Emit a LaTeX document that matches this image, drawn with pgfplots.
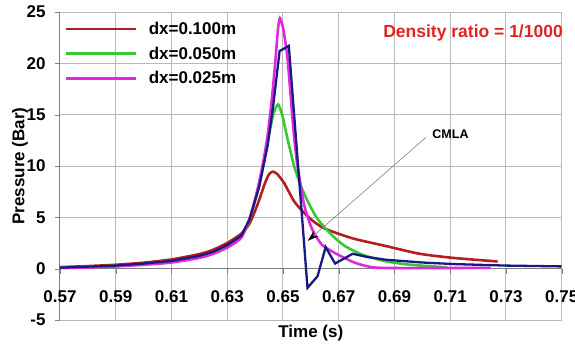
\documentclass[border=0pt]{standalone}
\usepackage{pgfplots}
\pgfplotsset{compat=1.18}
\usepackage{fontspec}
\setmainfont{Liberation Sans}
\usetikzlibrary{arrows.meta}
\definecolor{cRed}{RGB}{180,30,30}
\definecolor{cGreen}{RGB}{55,200,50}
\definecolor{cPink}{RGB}{225,40,225}
\definecolor{cBlue}{RGB}{25,25,130}
\definecolor{cTitle}{RGB}{225,35,35}
\definecolor{gridc}{RGB}{185,185,185}
\definecolor{cAxis}{RGB}{125,125,125}
\newcommand{\bigf}{\fontsize{17bp}{20bp}\selectfont\bfseries}
\begin{document}
\begin{tikzpicture}
\begin{axis}[
  scale only axis, width=501.7bp, height=308bp,
  xmin=0.57, xmax=0.75, ymin=-5, ymax=25,
  xtick={0.57,0.59,0.61,0.63,0.65,0.67,0.69,0.71,0.73,0.75},
  xticklabels={0.57,0.59,0.61,0.63,0.65,0.67,0.69,0.71,0.73,0.75},
  ytick={-5,0,5,10,15,20,25},
  yticklabels={-5,0,5,10,15,20,25},
  axis x line*=middle, axis y line*=left,
  hide obscured x ticks=false, hide obscured y ticks=false,
  xmajorgrids=true, ymajorgrids=true,
  major grid style={draw=gridc, line width=1bp},
  axis line style={cAxis, line width=1bp},
  tick align=outside, major tick length=5bp,
  xticklabel style={font=\bigf, yshift=-13bp},
  yticklabel style={font=\bigf, xshift=-6bp},
  xlabel={Time (s)}, ylabel={Pressure (Bar)},
  every axis x label/.style={at={(axis description cs:0.5,-0.0422)}, anchor=center, font=\bigf},
  every axis y label/.style={at={(axis description cs:-0.0797,0.5)}, anchor=center, rotate=90, font=\bigf},
  legend style={at={(axis description cs:0.004,0.981)}, anchor=north west, draw=none, fill=none,
    font=\bigf, row sep=7bp, column sep=9bp},
  legend cell align=left,
  legend image code/.code={\draw[#1] (0bp,0bp) -- (70bp,0bp);},
  clip mode=individual,
]
\addplot[cRed, line width=2.6bp, smooth, tension=0.4] coordinates {
(0.570,0.15) (0.580,0.25) (0.590,0.38) (0.600,0.58) (0.610,0.9) (0.620,1.42) (0.625,1.85) (0.630,2.5)
(0.635,3.4) (0.638,4.4) (0.6408,6.2) (0.6435,8.3) (0.6450,9.2) (0.6464,9.45) (0.6480,9.2) (0.6505,8.3)
(0.6539,6.6) (0.657,5.6) (0.6605,4.7) (0.665,3.9) (0.675,2.95) (0.687,2.2) (0.699,1.45) (0.711,1.05) (0.727,0.7)};
\addlegendentry{dx=0.100m}
\addplot[cGreen, line width=2.6bp, smooth, tension=0.4] coordinates {
(0.570,0.1) (0.580,0.18) (0.590,0.28) (0.600,0.45) (0.610,0.7) (0.620,1.15) (0.625,1.55) (0.630,2.15)
(0.635,3.1) (0.638,4.8) (0.6405,7.2) (0.6425,9.6) (0.6444,12.2) (0.6465,15.0) (0.6482,16.0) (0.6497,15.0)
(0.6515,12.8) (0.654,10.0) (0.6565,8.0) (0.6590,6.5) (0.6620,5.0) (0.6653,3.9) (0.6690,2.9) (0.6725,2.16)
(0.6785,1.36) (0.6863,0.75) (0.695,0.4) (0.709,0.12)};
\addlegendentry{dx=0.050m}
\addplot[cPink, line width=2.6bp, smooth, tension=0.4] coordinates {
(0.570,0.05) (0.580,0.12) (0.590,0.22) (0.600,0.38) (0.610,0.6) (0.620,1.05) (0.625,1.45) (0.630,2.05)
(0.635,3.0) (0.638,4.9) (0.6405,7.3) (0.6425,9.8) (0.6445,13.0) (0.6460,16.5) (0.6472,20.0) (0.6482,23.3)
(0.6489,24.4) (0.6500,23.5) (0.6510,21.8) (0.6518,20.0) (0.6533,15.0) (0.6543,12.0) (0.6552,10.0)
(0.6563,8.2) (0.6576,6.2) (0.6595,4.5) (0.6611,3.5) (0.6641,2.3) (0.6695,1.4) (0.6761,0.55) (0.6833,0.1)
(0.700,0.06) (0.7245,0.08)};
\addlegendentry{dx=0.025m}
\addplot[cBlue, line width=2.3bp, forget plot] coordinates {
(0.570,0.1) (0.580,0.2) (0.590,0.3) (0.600,0.5) (0.610,0.75) (0.620,1.25) (0.625,1.65) (0.630,2.3)
(0.635,3.2) (0.638,4.8) (0.6415,8.0) (0.6445,12.0) (0.6465,15.9) (0.6488,21.2) (0.6521,21.7)
(0.6588,-1.87) (0.6624,-0.74) (0.6653,2.1) (0.6687,0.5) (0.6750,1.45) (0.6800,1.15) (0.6869,0.87)
(0.700,0.6) (0.711,0.45) (0.730,0.3) (0.750,0.22)};
\node[text=cTitle, font=\fontsize{17.5bp}{20bp}\selectfont\bfseries] at (axis cs:0.7182,22.97) {Density ratio = 1/1000};
\node[font=\fontsize{12.5bp}{15bp}\selectfont\bfseries] at (axis cs:0.7101,13.08) {CMLA};
\draw[gray, line width=0.6bp, -{Stealth[black, length=11bp, width=7bp]}] (axis cs:0.7013,12.79) -- (axis cs:0.6589,2.71);
\end{axis}
\pgfresetboundingbox
\useasboundingbox (-60bp,-26bp) rectangle (515bp,320bp);
\end{tikzpicture}
\end{document}
